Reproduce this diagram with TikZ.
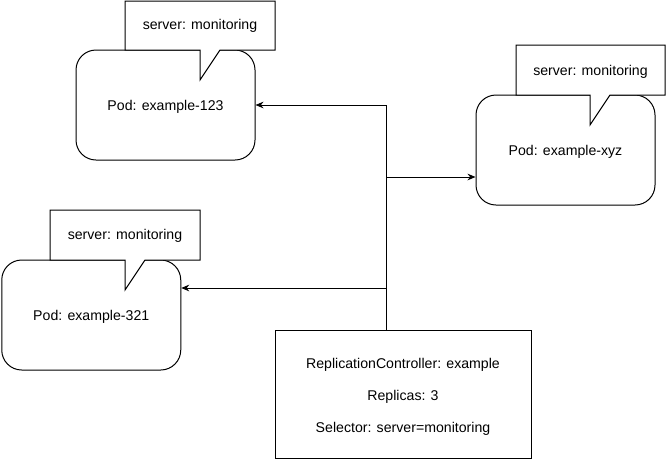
\documentclass[tikz,border=0pt]{standalone}
\usepackage{fontspec}
\setmainfont{Liberation Sans}
\usetikzlibrary{arrows.meta}
\begin{document}
\begin{tikzpicture}[x=0.75pt,y=-0.75pt,
  font=\fontsize{10.6pt}{12pt}\selectfont,
  pod/.style={draw=black,line width=0.75pt,fill=white,rounded corners=15pt,minimum width=134.25pt,minimum height=82.5pt,inner sep=0pt},
  callout/.style={draw=black,line width=0.75pt,fill=white,line join=miter},
  lbl/.style={inner sep=0pt},
  rcbox/.style={draw=black,line width=0.75pt,fill=white,minimum width=192pt,minimum height=96pt,inner sep=0pt},
  conn/.style={line width=0.75pt},
  arr/.style={conn,-{Stealth[length=6pt,width=5pt]}}]
\useasboundingbox (0,0) rectangle (666,461);
% pods
\node[pod] (pod1) at (165.5,105) {};
\node[pod] (pod2) at (565.5,150) {};
\node[pod] (pod3) at (91.25,315) {};
% callouts
\draw[callout] (125,1) -- (275,1) -- (275,50) -- (220,50) -- (200,80) -- (200,50) -- (125,50) -- cycle;
\node[lbl] (c1) at (200,26) {server: monitoring};
\draw[callout] (516,45) -- (665,45) -- (665,95) -- (610,95) -- (590,125) -- (590,95) -- (516,95) -- cycle;
\node[lbl] (c2) at (590.5,72) {server: monitoring};
\draw[callout] (50,210) -- (200,210) -- (200,260) -- (145,260) -- (125,290) -- (125,260) -- (50,260) -- cycle;
\node[lbl] (c3) at (125,236) {server: monitoring};
% pod labels
\node[lbl] (t1) at (165.5,107) {Pod: example-123};
\node[lbl] (t2) at (565.5,152) {Pod: example-xyz};
\node[lbl] (t3) at (91.25,317) {Pod: example-321};
% replication controller
\node[rcbox] (rc) at (403,394) {};
\node[lbl] (r1) at (403,365) {ReplicationController: example};
\node[lbl] (r2) at (403,397) {Replicas: 3};
\node[lbl] (r3) at (403,429) {Selector: server=monitoring};
% connectors
\coordinate (j1) at (386,105);
\coordinate (j2) at (386,177);
\coordinate (j3) at (386,288);
\coordinate (j0) at (j1 |- rc.north);
\draw[conn] (j0) -- (j1);
\draw[arr] (j1) -- (pod1.east);
\draw[arr] (j2) -- (j2 -| pod2.west);
\draw[arr] (j3) -- (j3 -| pod3.east);
\end{tikzpicture}
\end{document}
